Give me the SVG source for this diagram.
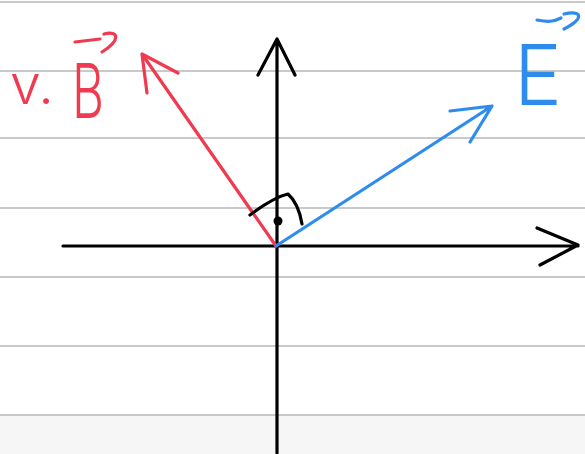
<svg xmlns="http://www.w3.org/2000/svg" width="585" height="454" viewBox="0 0 585 454">
<style>
.rule{stroke:#c9c9c9;stroke-width:2;fill:none}
.ax{stroke:#000;stroke-width:3.2;fill:none;stroke-linecap:round;stroke-linejoin:round}
.red{stroke:#ef3a50;stroke-width:3.2;fill:none;stroke-linecap:round;stroke-linejoin:round}
.blue{stroke:#2e8cec;stroke-width:3.2;fill:none;stroke-linecap:round;stroke-linejoin:round}
.lbl{font-family:Inter,Lato,"Noto Sans","Liberation Sans",sans-serif;font-weight:300}
</style>
<rect width="585" height="454" fill="#fff"/>
<rect y="415" width="585" height="39" fill="#f6f6f6"/>
<g id="ruling">
<line class="rule" x1="0" y1="2" x2="585" y2="2"/>
<line class="rule" x1="0" y1="71" x2="585" y2="71"/>
<line class="rule" x1="0" y1="138" x2="585" y2="138"/>
<line class="rule" x1="0" y1="208" x2="585" y2="208"/>
<line class="rule" x1="0" y1="277" x2="585" y2="277"/>
<line class="rule" x1="0" y1="346" x2="585" y2="346"/>
<line class="rule" x1="0" y1="415" x2="585" y2="415"/>
</g>
<g id="connectors">
<g id="x-axis"><path class="ax" d="M63,246 L578,246 M537,228 L578,245 L540,265"/></g>
<g id="y-axis"><path class="ax" d="M277,453 L277,39 M258,75 L277,39 L295,75"/></g>
<g id="vB-vector"><path class="red" d="M276,246 L142,54 M147,93 L142,54 L178,73"/></g>
<g id="E-vector"><path class="blue" d="M276,246 L492,106 M450,111 L492,106 L470,142"/></g>
</g>
<g id="angle">
<path class="ax" d="M250,215 C262,206 275,197 288,194 C296,201 300,212 302,224" stroke-width="3"/>
<circle cx="278" cy="221" r="4.5" fill="#000"/>
</g>
<g id="label-vB">
<text class="lbl" x="10" y="104" font-size="54" fill="#ef3a50" textLength="44" lengthAdjust="spacingAndGlyphs">v.</text>
<text class="lbl" x="72" y="118" font-size="76" fill="#ef3a50" textLength="32" lengthAdjust="spacingAndGlyphs">B</text>
<path class="red" d="M75,42 L100,39 M104,34 C119,30 121,40 102,52"/>
</g>
<g id="label-E">
<text class="lbl" x="514" y="105" font-size="84" fill="#2e8cec" textLength="48" lengthAdjust="spacingAndGlyphs">E</text>
<path class="blue" d="M537,20 C548,22 553,22 561,18 M564,14 C582,10 585,18 564,29"/>
</g>
</svg>
